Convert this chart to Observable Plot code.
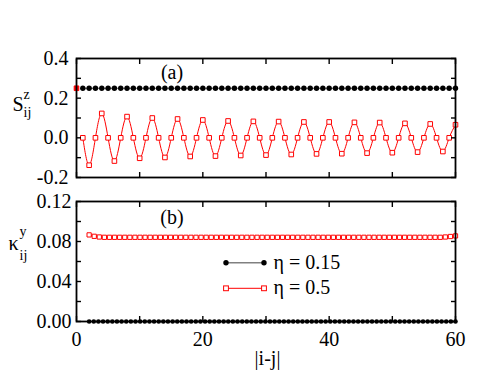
<!DOCTYPE html>
<html>
<head>
<meta charset="utf-8">
<script src="https://cdn.jsdelivr.net/npm/d3@7"></script>
<script src="https://cdn.jsdelivr.net/npm/@observablehq/plot@0.6"></script>
<style>
  html, body { margin: 0; padding: 0; background: #fff; font-family: "Liberation Serif", serif; }
  #chart { width: 491px; height: 379px; background: #fff; }
  #chart svg { display: block; }
  #chart svg, #chart svg text, #chart svg g { font-family: "Liberation Serif", serif !important; }
</style>
</head>
<body>
<div id="chart"></div>
<script>
// ---------- data ----------
// panel (a): S^z_ij vs |i-j|
const xA = d3.range(1, 61);                        // |i-j| = 1..60
const szEta015 = [
  0.25,0.25,0.25,0.25,0.25,0.25,0.25,0.25,0.25,0.25,
  0.25,0.25,0.25,0.25,0.25,0.25,0.25,0.25,0.25,0.25,
  0.25,0.25,0.25,0.25,0.25,0.25,0.25,0.25,0.25,0.25,
  0.25,0.25,0.25,0.25,0.25,0.25,0.25,0.25,0.25,0.25,
  0.25,0.25,0.25,0.25,0.25,0.25,0.25,0.25,0.25,0.25,
  0.25,0.25,0.25,0.25,0.25,0.25,0.25,0.25,0.25,0.25
];
const szEta05 = [
  0,-0.138, 0,0.123, 0,-0.117, 0,0.107, 0,-0.103,
  0,0.100, 0,-0.099, 0,0.095, 0,-0.094, 0,0.090,
  0,-0.092, 0,0.085, 0,-0.089, 0,0.083, 0,-0.087,
  0,0.082, 0,-0.084, 0,0.080, 0,-0.081, 0,0.080,
  0,-0.080, 0,0.078, 0,-0.077, 0,0.077, 0,-0.075,
  0,0.073, 0,-0.072, 0,0.070, 0,-0.069, 0,0.066
];
const szEta05AtZero = [{x: 0, y: 0.25}];          // isolated red point at |i-j| = 0

// panel (b): kappa^y_ij vs |i-j|
const kyEta015 = [
  0,0,0,0,0,0,0,0,0,0, 0,0,0,0,0,0,0,0,0,0,
  0,0,0,0,0,0,0,0,0,0, 0,0,0,0,0,0,0,0,0,0,
  0,0,0,0,0,0,0,0,0,0, 0,0,0,0,0,0,0,0,0,0,
  0,0,0,0,0,0,0,0,0,0, 0,0,0,0,0,0,0,0,0,0
];
const kyEta05 = [
  0.0866,0.0852,0.0845,0.0842,0.0842,0.0842,0.0842,0.0842,0.0842,0.0842,
  0.0842,0.0842,0.0842,0.0842,0.0842,0.0842,0.0842,0.0842,0.0842,0.0842,
  0.0842,0.0842,0.0842,0.0842,0.0842,0.0842,0.0842,0.0842,0.0842,0.0842,
  0.0842,0.0842,0.0842,0.0842,0.0842,0.0842,0.0842,0.0842,0.0842,0.0842,
  0.0842,0.0842,0.0842,0.0842,0.0842,0.0842,0.0842,0.0842,0.0842,0.0842,
  0.0842,0.0842,0.0842,0.0842,0.0842,0.0842,0.0842,0.0842,0.0842,0.0842,
  0.0842,0.0842,0.0842,0.0842,0.0842,0.0842,0.0842,0.0842,0.0842,0.0842,
  0.0845,0.0850,0.0856
];
const xRangeB = [2, 60];
const xB015 = kyEta015.map((_, i) => xRangeB[0] + i * (xRangeB[1] - xRangeB[0]) / (kyEta015.length - 1));
const xB05  = kyEta05.map((_, i) => xRangeB[0] + i * (xRangeB[1] - xRangeB[0]) / (kyEta05.length - 1));

const xTicksAll = [0, 10, 20, 30, 40, 50, 60];
const xTickLabels = [0, 20, 40, 60];
const yTicksA = [-0.2, -0.1, 0, 0.1, 0.2, 0.3, 0.4];
const yLabelsA = [-0.2, 0, 0.2, 0.4];
const yTicksB = [0, 0.02, 0.04, 0.06, 0.08, 0.10, 0.12];
const yLabelsB = [0, 0.04, 0.08, 0.12];
const seriesNames = ["\u03b7 = 0.15", "\u03b7 = 0.5"];

// ---------- styling ----------
const FONT = "Liberation Serif";
const RED = "#ff0000";
const W = 491, ML = 76, MR = 36;
const blank = () => "";

function frameAxes(yTicks) {
  return [
    Plot.axisY({anchor: "left", ticks: yTicks, tickSize: -5, tickFormat: blank, label: null, strokeWidth: 1.4}),
    Plot.axisY({anchor: "right", ticks: yTicks, tickSize: -5, tickFormat: blank, label: null, strokeWidth: 1.4}),
    Plot.axisX({anchor: "bottom", ticks: xTicksAll, tickSize: -5, tickFormat: blank, label: null, strokeWidth: 1.4}),
    Plot.axisX({anchor: "top", ticks: xTicksAll, tickSize: -5, tickFormat: blank, label: null, strokeWidth: 1.4}),
    Plot.frame({stroke: "#000", strokeWidth: 1.8})
  ];
}
const txt = (extra) => ({fontFamily: FONT, fontSize: 20, lineAnchor: "middle", ...extra});

// ---------- panel (a) ----------
const dataA015 = xA.map((x, i) => ({x, y: szEta015[i]}));
const dataA05 = xA.map((x, i) => ({x, y: szEta05[i]}));

const plotA = Plot.plot({
  width: W, height: 189,
  marginLeft: ML, marginRight: MR, marginTop: 58, marginBottom: 12,
  style: "font-family: 'Liberation Serif', serif; font-size: 20px; background: #fff; color: #000; overflow: visible;",
  x: {domain: [0, 60]},
  y: {domain: [-0.2, 0.4]},
  marks: [
    Plot.line(dataA015, {x: "x", y: "y", stroke: "#555", strokeWidth: 1}),
    Plot.dot(dataA015, {x: "x", y: "y", r: 2.7, fill: "#000", stroke: "none"}),
    Plot.line(dataA05, {x: "x", y: "y", stroke: RED, strokeWidth: 1, curve: "natural"}),
    Plot.dot(dataA05, {x: "x", y: "y", symbol: "square", r: 2.6, fill: "#fff", stroke: RED, strokeWidth: 1}),
    Plot.dot(szEta05AtZero, {x: "x", y: "y", symbol: "square", r: 2.6, fill: RED, stroke: RED, strokeWidth: 1}),
    ...frameAxes(yTicksA),
    Plot.axisY({anchor: "left", ticks: yLabelsA, tickSize: 0, tickPadding: 8, tickFormat: d => d.toFixed(1), label: null, fontFamily: FONT}),
    Plot.text(["(a)"], txt({frameAnchor: "top", text: d => d, dx: -94, dy: 14.5})),
    Plot.text(["S"], txt({frameAnchor: "left", text: d => d, textAnchor: "start", dx: -64, dy: -13})),
    Plot.text(["z"], txt({frameAnchor: "left", text: d => d, textAnchor: "start", dx: -53, dy: -23, fontSize: 14})),
    Plot.text(["ij"], txt({frameAnchor: "left", text: d => d, textAnchor: "start", dx: -53, dy: -5, fontSize: 14}))
  ]
});

// ---------- panel (b) ----------
const dataB015 = xB015.map((x, i) => ({x, y: kyEta015[i]}));
const dataB05 = xB05.map((x, i) => ({x, y: kyEta05[i]}));

const plotB = Plot.plot({
  width: W, height: 190,
  marginLeft: ML, marginRight: MR, marginTop: 12, marginBottom: 58,
  style: "font-family: 'Liberation Serif', serif; font-size: 20px; background: #fff; color: #000; overflow: visible;",
  x: {domain: [0, 60]},
  y: {domain: [0, 0.12]},
  marks: [
    Plot.line(dataB015, {x: "x", y: "y", stroke: "#555", strokeWidth: 1}),
    Plot.dot(dataB015, {x: "x", y: "y", r: 2.3, fill: "#000", stroke: "none"}),
    Plot.line(dataB05, {x: "x", y: "y", stroke: RED, strokeWidth: 1}),
    Plot.dot(dataB05, {x: "x", y: "y", symbol: "square", r: 2.4, fill: "#fff", stroke: RED, strokeWidth: 1}),
    ...frameAxes(yTicksB),
    Plot.axisY({anchor: "left", ticks: yLabelsB, tickSize: 0, tickPadding: 5, tickFormat: d => d.toFixed(2), label: null, fontFamily: FONT}),
    Plot.axisX({anchor: "bottom", ticks: xTickLabels, tickSize: 0, tickPadding: 10, tickFormat: d => String(d), label: null, fontFamily: FONT}),
    Plot.text(["|i-j|"], txt({frameAnchor: "bottom", text: d => d, dx: 1.5, dy: 37})),
    Plot.text(["(b)"], txt({frameAnchor: "top", text: d => d, dx: -94, dy: 16.5})),
    Plot.text(["\u03ba"], txt({frameAnchor: "left", text: d => d, textAnchor: "start", dx: -68, dy: -18})),
    Plot.text(["y"], txt({frameAnchor: "left", text: d => d, textAnchor: "start", dx: -57, dy: -30, fontSize: 14})),
    Plot.text(["ij"], txt({frameAnchor: "left", text: d => d, textAnchor: "start", dx: -57, dy: -6, fontSize: 14})),
    // legend labels
    Plot.text([seriesNames[0]], txt({frameAnchor: "top-left", text: d => d, textAnchor: "start", dx: 197, dy: 61})),
    Plot.text([seriesNames[1]], txt({frameAnchor: "top-left", text: d => d, textAnchor: "start", dx: 197, dy: 86.5}))
  ]
});

// legend symbols (pixel layout)
const svgB = d3.select(plotB);
const lg = svgB.append("g");
const legendRows = [
  {y: 73.7, stroke: "#808080", sym: "dot"},
  {y: 99.3, stroke: RED, sym: "square"}
];
for (const row of legendRows) {
  lg.append("line").attr("x1", 226).attr("x2", 264).attr("y1", row.y).attr("y2", row.y)
    .attr("stroke", row.stroke).attr("stroke-width", row.sym === "dot" ? 1.6 : 1);
  for (const cx of [226, 264]) {
    if (row.sym === "dot") {
      lg.append("circle").attr("cx", cx).attr("cy", row.y).attr("r", 2.7).attr("fill", "#000");
    } else {
      lg.append("rect").attr("x", cx - 2.4).attr("y", row.y - 2.4).attr("width", 4.8).attr("height", 4.8)
        .attr("fill", "#fff").attr("stroke", RED).attr("stroke-width", 1);
    }
  }
}

// make sure every label uses the serif face
for (const svg of [plotA, plotB]) {
  d3.select(svg).attr("font-family", "Liberation Serif, serif");
  d3.select(svg).selectAll("text, g").style("font-family", "'Liberation Serif', serif");
}

const chart = document.getElementById("chart");
chart.appendChild(plotA);
chart.appendChild(plotB);
</script>
</body>
</html>
